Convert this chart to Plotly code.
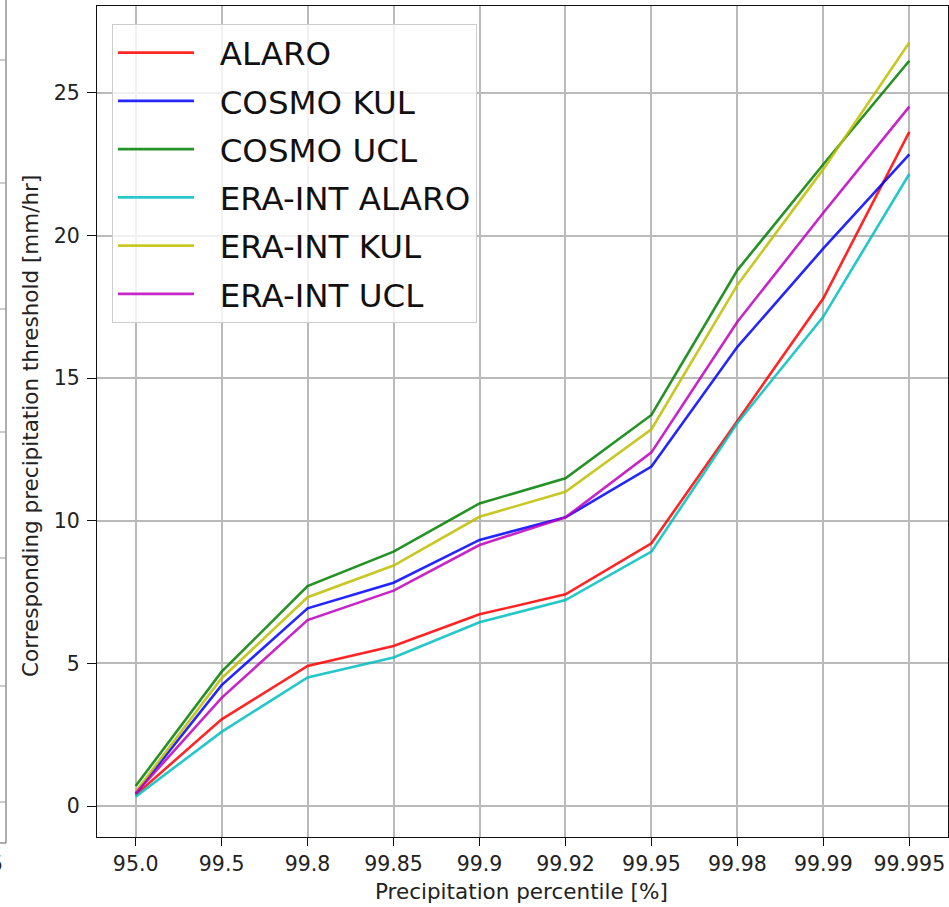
import plotly.graph_objects as go

# Precipitation percentiles (categorical x axis)
percentiles = ["95.0", "99.5", "99.8", "99.85", "99.9", "99.92",
               "99.95", "99.98", "99.99", "99.995"]

# Corresponding precipitation thresholds [mm/hr] per model run
alaro = [0.39, 3.04, 4.91, 5.61, 6.72, 7.42, 9.21, 13.50, 17.80, 23.64]
cosmo_kul = [0.44, 4.24, 6.93, 7.83, 9.33, 10.12, 11.90, 16.10, 19.55, 22.85]
cosmo_ucl = [0.70, 4.71, 7.71, 8.92, 10.61, 11.49, 13.71, 18.79, 22.50, 26.13]
era_alaro = [0.33, 2.60, 4.51, 5.21, 6.44, 7.22, 8.92, 13.43, 17.16, 22.16]
era_kul = [0.50, 4.48, 7.32, 8.43, 10.14, 11.02, 13.21, 18.27, 22.33, 26.77]
era_ucl = [0.44, 3.79, 6.52, 7.55, 9.15, 10.12, 12.40, 16.98, 20.80, 24.52]

series_names = ["ALARO", "COSMO KUL", "COSMO UCL",
                "ERA-INT ALARO", "ERA-INT KUL", "ERA-INT UCL"]
series_values = [alaro, cosmo_kul, cosmo_ucl, era_alaro, era_kul, era_ucl]
series_colors = ["#ff0000", "#0000ff", "#008000", "#00bfbf", "#bfbf00", "#bf00bf"]

W, H = 949, 907
ML, MR, MT, MB = 97, 1, 6, 70
FONT = "DejaVu Sans"
TXT = "#222222"
NBSP = "\u00a0"

fig = go.Figure()
for i, (name, vals, col) in enumerate(zip(series_names, series_values, series_colors)):
    fig.add_trace(go.Scatter(
        x=percentiles, y=vals, mode="lines",
        name=NBSP * 2 + name,
        legendgroup=f"g{i}",
        line=dict(color=col, width=2.6), opacity=0.85,
    ))

plot_w = W - ML - MR
plot_h = H - MT - MB


def px_x(px):
    return (px - ML) / plot_w


def px_y(py):
    return (H - MB - py) / plot_h


axis_common = dict(
    showline=True, linecolor="#111111", linewidth=1.3, mirror=True,
    showgrid=True, gridcolor="#bababa", gridwidth=1.5,
    ticks="outside", tickcolor="#111111", tickwidth=1.3,
    tickfont=dict(family=FONT, size=20.5, color=TXT),
    zeroline=False,
)

fig.update_xaxes(type="category", range=[-0.45, 9.45], ticklen=8,
                 categoryorder="array", categoryarray=percentiles, **axis_common)
fig.update_yaxes(range=[-1.087, 28.05], dtick=5, tick0=0, ticklen=9,
                 ticklabelstandoff=3, **axis_common)

# Axis titles
annotations = [
    dict(text="Precipitation percentile [%]", xref="paper", yref="paper",
         x=px_x(521), y=px_y(891), xanchor="center", yanchor="middle", showarrow=False,
         font=dict(family=FONT, size=21.5, color=TXT)),
    dict(text="Corresponding precipitation threshold [mm/hr]", xref="paper", yref="paper",
         x=px_x(30), y=px_y(426), xanchor="center", yanchor="middle", showarrow=False,
         textangle=-90, font=dict(family=FONT, size=21.5, color=TXT)),
    # edge of the neighbouring panel's tick label
    dict(text="5", xref="paper", yref="paper",
         x=px_x(5), y=px_y(864), xanchor="right", yanchor="middle", showarrow=False,
         font=dict(family=FONT, size=20.5, color=TXT)),
]

# Right spine of the neighbouring panel at the left edge
shapes = [
    dict(type="line", xref="paper", yref="paper", x0=px_x(6), x1=px_x(6),
         y0=px_y(-2), y1=px_y(843), line=dict(color="#777777", width=1.2)),
    dict(type="line", xref="paper", yref="paper", x0=px_x(-2), x1=px_x(6),
         y0=px_y(843), y1=px_y(843), line=dict(color="#777777", width=1.2)),
]
for ty in [60, 183, 309, 432, 558, 686, 802]:
    shapes.append(dict(type="line", xref="paper", yref="paper", x0=px_x(-2), x1=px_x(6),
                       y0=px_y(ty), y1=px_y(ty), line=dict(color="#999999", width=1)))

fig.update_layout(
    width=W, height=H,
    margin=dict(l=ML, r=MR, t=MT, b=MB, pad=0),
    paper_bgcolor="white", plot_bgcolor="white",
    font=dict(family=FONT, color=TXT),
    showlegend=True,
    legend=dict(
        x=px_x(112), y=px_y(24), xanchor="left", yanchor="top",
        bgcolor="rgba(255,255,255,0.8)", bordercolor="#cccccc", borderwidth=1,
        font=dict(family=FONT, size=32.5, color="#111111"),
        itemwidth=76, tracegroupgap=3, traceorder="grouped",
    ),
    annotations=annotations,
    shapes=shapes,
)

fig.write_html("out.html")
